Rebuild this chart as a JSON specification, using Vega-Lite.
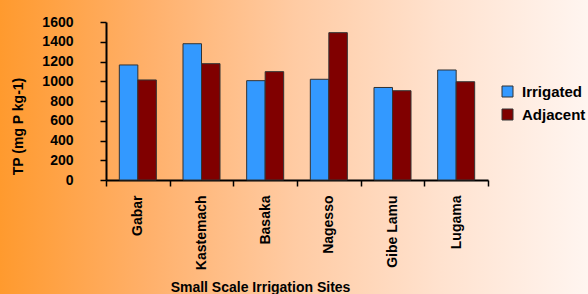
{
  "$schema": "https://vega.github.io/schema/vega-lite/v6.json",
  "width": 588,
  "height": 294,
  "autosize": {"type": "none"},
  "padding": 0,
  "background": "#FFF5EF",
  "config": {
    "font": "Liberation Sans",
    "view": {
      "stroke": null,
      "fill": {
        "gradient": "linear",
        "x1": 0, "y1": 0, "x2": 1, "y2": 0,
        "stops": [
          {"offset": 0, "color": "#FF9A2E"},
          {"offset": 0.25, "color": "#FFB06A"},
          {"offset": 0.5, "color": "#FFCBA3"},
          {"offset": 0.75, "color": "#FFE2CF"},
          {"offset": 1, "color": "#FFF5F0"}
        ]
      }
    },
    "axis": {
      "labelFont": "Liberation Sans",
      "titleFont": "Liberation Sans",
      "labelFontWeight": "bold",
      "titleFontWeight": "bold",
      "labelFontSize": 14,
      "titleFontSize": 14,
      "labelColor": "#000000",
      "titleColor": "#000000",
      "domainColor": "#000000",
      "domainWidth": 2,
      "tickColor": "#000000",
      "tickWidth": 1.5,
      "grid": false
    },
    "legend": {
      "labelFont": "Liberation Sans",
      "labelFontWeight": "bold",
      "labelFontSize": 15,
      "labelColor": "#000000"
    }
  },
  "data": {
    "values": [
      {"site": "Gabar", "type": "Irrigated", "tp": 1165},
      {"site": "Gabar", "type": "Adjacent", "tp": 1013},
      {"site": "Kastemach", "type": "Irrigated", "tp": 1380},
      {"site": "Kastemach", "type": "Adjacent", "tp": 1178},
      {"site": "Basaka", "type": "Irrigated", "tp": 1006},
      {"site": "Basaka", "type": "Adjacent", "tp": 1097},
      {"site": "Nagesso", "type": "Irrigated", "tp": 1020},
      {"site": "Nagesso", "type": "Adjacent", "tp": 1492},
      {"site": "Gibe Lamu", "type": "Irrigated", "tp": 937},
      {"site": "Gibe Lamu", "type": "Adjacent", "tp": 904},
      {"site": "Lugama", "type": "Irrigated", "tp": 1114},
      {"site": "Lugama", "type": "Adjacent", "tp": 995}
    ]
  },
  "mark": {"type": "bar", "stroke": "#333333", "strokeWidth": 1},
  "encoding": {
    "x": {
      "field": "site",
      "type": "nominal",
      "sort": ["Gabar", "Kastemach", "Basaka", "Nagesso", "Gibe Lamu", "Lugama"],
      "scale": {"range": [106, 488], "paddingInner": 0, "paddingOuter": 0},
      "axis": {
        "title": "Small Scale Irrigation Sites",
        "orient": "bottom",
        "offset": -114,
        "labelAngle": 270,
        "labelPadding": 9,
        "tickSize": 6,
        "tickBand": "extent",
        "titleX": 260,
        "titleY": 111,
        "titleBaseline": "alphabetic",
        "titleAnchor": null
      }
    },
    "xOffset": {
      "field": "type",
      "type": "nominal",
      "sort": ["Irrigated", "Adjacent"],
      "scale": {"paddingOuter": 0.72, "paddingInner": 0}
    },
    "y": {
      "field": "tp",
      "type": "quantitative",
      "scale": {"domain": [0, 1600], "range": [180, 22], "nice": false},
      "axis": {
        "title": "TP (mg P kg-1)",
        "orient": "left",
        "offset": -106,
        "values": [0, 200, 400, 600, 800, 1000, 1200, 1400, 1600],
        "format": "d",
        "tickSize": 6,
        "labelPadding": 27,
        "titleX": -88,
        "titleY": 126,
        "titleAngle": 270,
        "titleAlign": "center",
        "titleBaseline": "middle"
      }
    },
    "color": {
      "field": "type",
      "type": "nominal",
      "sort": ["Irrigated", "Adjacent"],
      "scale": {"domain": ["Irrigated", "Adjacent"], "range": ["#3399FF", "#800000"]},
      "legend": {
        "title": null,
        "orient": "none",
        "legendX": 500,
        "legendY": 84,
        "symbolType": "square",
        "symbolSize": 121,
        "symbolStrokeColor": "#333333",
        "symbolStrokeWidth": 1,
        "rowPadding": 7,
        "labelOffset": 7,
        "padding": 0
      }
    }
  }
}
